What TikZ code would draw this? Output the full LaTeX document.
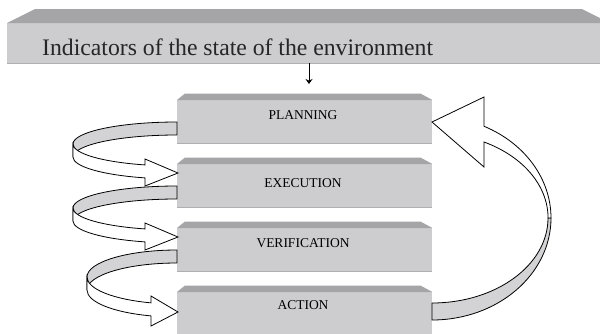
\documentclass[tikz,border=0pt]{standalone}
\usepackage{fontspec}
\setmainfont{Liberation Serif}
\usetikzlibrary{arrows.meta}
\definecolor{facegray}{RGB}{205,205,207}
\definecolor{bevelgray}{RGB}{165,165,168}
\definecolor{edgegray}{RGB}{175,175,178}
\definecolor{ribbongray}{RGB}{211,211,213}
\tikzset{
  boxface/.style={fill=facegray, draw=none, minimum width=255pt, minimum height=43pt, inner sep=0pt, anchor=north west},
  bevel/.style={fill=bevelgray, draw=none},
  edgeline/.style={draw=edgegray, line width=1pt},
  lbl/.style={font=\fontsize{13.5}{15}\selectfont, inner sep=0pt},
  ribbonback/.style={fill=ribbongray, draw=black, line width=0.8pt, line join=round},
  ribbonfront/.style={fill=white, draw=black, line width=0.8pt, line join=miter},
  downarr/.style={line width=0.9pt, -{Stealth[length=5pt,width=7pt]}}
}
\begin{document}
\begin{tikzpicture}[x=1pt,y=1pt]
\useasboundingbox (0,0) rectangle (600,-333);
\clip (0,0) rectangle (600,-333);
\fill[white] (0,0) rectangle (600,-333);
% banner
\node[boxface, minimum width=613pt, minimum height=40pt] (banner) at (7,-23) {};
\fill[bevel] (35,-9) -- (582,-9) -- (610,-23) -- (7,-23) -- cycle;
\draw[edgeline] (banner.south west) -- (banner.south east);
\node[anchor=base west, font=\fontsize{23.7}{26}\selectfont, inner sep=0pt, text=black!85] (title) at (42,-55) {Indicators of the state of the environment};
% down arrow
\coordinate (dtop) at (309,-63);
\coordinate (dbot) at (309,-84);
\draw[downarr] (dtop) -- (dbot);
% boxes
\foreach \n/\y in {plan/100, exec/164, veri/228, act/292}{
  \node[boxface] (\n) at (177,-\y) {};
  \fill[bevel] ([xshift=8pt,yshift=6.5pt]\n.north west) -- ([xshift=-12pt,yshift=6.5pt]\n.north east) -- (\n.north east) -- (\n.north west) -- cycle;
  \draw[edgeline] (\n.south west) -- (\n.south east);
}
\node[lbl] (planlbl) at (303,-115) {PLANNING};
\node[lbl] (execlbl) at (303,-183) {EXECUTION};
\node[lbl] (verilbl) at (303,-243) {VERIFICATION};
\node[lbl] (actlbl) at (303,-305) {ACTION};
% left ribbon arrows 1 and 2
\foreach \s in {0,64}{
\begin{scope}[yshift=-\s pt]
  \draw[ribbonback] (177,-122) arc[start angle=90, end angle=180, x radius=104pt, y radius=22pt]
     -- (73,-157) arc[start angle=180, end angle=90, x radius=104pt, y radius=22pt] -- cycle;
  \draw[ribbonfront] (73,-144) arc[start angle=180, end angle=252.1, x radius=104pt, y radius=22pt]
     -- (145,-159) -- (178,-173) -- (145,-186) -- (145,-177.9)
     arc[start angle=252.1, end angle=180, x radius=104pt, y radius=22pt] -- cycle;
\end{scope}
}
% left ribbon arrow 3
\draw[ribbonback] (177,-250) arc[start angle=90, end angle=180, x radius=90pt, y radius=27pt]
   -- (87,-290) arc[start angle=180, end angle=90, x radius=90pt, y radius=27pt] -- cycle;
\draw[ribbonfront] (87,-277) arc[start angle=180, end angle=253.2, x radius=90pt, y radius=27pt]
   -- (151,-296) -- (178,-312) -- (151,-326) -- (151,-315.9)
   arc[start angle=253.2, end angle=180, x radius=90pt, y radius=27pt] -- cycle;
% right big arrow
\draw[ribbonback] (432,-320) arc[start angle=270, end angle=360, x radius=119pt, y radius=102pt]
   -- (548,-218) arc[start angle=360, end angle=270, x radius=116pt, y radius=85pt] -- cycle;
\draw[ribbonfront] (551,-218) arc[start angle=0, end angle=64.1, x radius=119pt, y radius=102pt]
   -- (484,-97) -- (432,-122) -- (484,-167) -- (484,-142)
   arc[start angle=63.4, end angle=0, x radius=116pt, y radius=85pt] -- cycle;
\end{tikzpicture}
\end{document}
